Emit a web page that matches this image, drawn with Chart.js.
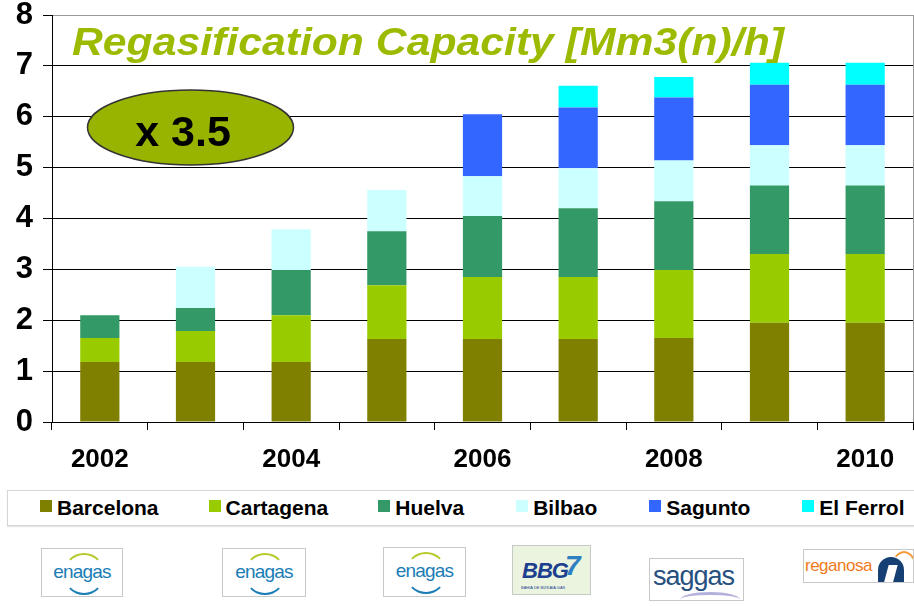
<!DOCTYPE html>
<html>
<head>
<meta charset="utf-8">
<script src="https://cdn.jsdelivr.net/npm/chart.js@4/dist/chart.umd.min.js"></script>
<style>
  body { margin: 0; background: #fff; width: 914px; height: 606px; overflow: hidden; position: relative; font-family: Arial, "Liberation Sans", sans-serif; }
  #chart-canvas { position: absolute; left: 0; top: 0; }
  #legend-div { position: absolute; left: 7px; top: 490px; width: 920px; height: 36px; border: 1px solid #d6d6d6; box-shadow: 0 1px 1px #e6e6e6; display: flex; align-items: center; padding-left: 32px; box-sizing: border-box; white-space: nowrap; }
  .legend-item { display: flex; align-items: center; flex-shrink: 0; font-weight: bold; font-size: 21px; color: #000; }
  .legend-box { width: 12px; height: 12px; margin-right: 5px; margin-top: -4px; }
  .logo { position: absolute; border: 1px solid #c8c8c8; box-sizing: border-box; background: #fff; overflow: hidden; }
  .enagas .ring { position: absolute; left: 21px; top: 4px; width: 38px; height: 38px; border-radius: 50%; border: 2px solid; border-color: #b5c928 transparent #1b7db6 transparent; }
  .enagas span { position: absolute; left: 0; width: 100%; top: 12px; text-align: center; font-size: 19px; color: #1a7db5; letter-spacing: -0.8px; }
</style>
</head>
<body>
<canvas id="chart-canvas" width="914" height="480"></canvas>
<div id="legend-div"></div>

<!-- logos de las plantas -->
<div class="logo enagas" style="left:41px; top:548px; width:82px; height:49px;"><div class="ring"></div><span>enagas</span></div>
<div class="logo enagas" style="left:222px; top:548px; width:84px; height:49px;"><div class="ring"></div><span>enagas</span></div>
<div class="logo enagas" style="left:383px; top:547px; width:83px; height:50px;"><div class="ring"></div><span>enagas</span></div>
<div class="logo" style="left:512px; top:545px; width:79px; height:50px; background:#eaf4df;">
  <span style="position:absolute; left:9px; top:12px; font-size:22px; font-weight:bold; font-style:italic; color:#1d3f8f; letter-spacing:-1px;">BBG</span>
  <span style="position:absolute; left:52px; top:4px; font-size:28px; font-weight:bold; font-style:italic; color:#2f7fc1;">7</span>
  <span style="position:absolute; left:8px; top:39px; font-size:4px; color:#1d3f8f;">BAHIA DE BIZKAIA GAS</span>
</div>
<div class="logo" style="left:649px; top:558px; width:95px; height:43px;">
  <span style="position:absolute; left:3px; top:2px; font-size:27px; color:#27507f; letter-spacing:-1px;">saggas</span>
  <div style="position:absolute; left:30px; top:33px; width:60px; height:12px; border-radius:50%; border-top:3px solid #b4b0dc;"></div>
</div>
<div class="logo" style="left:803px; top:549px; width:111px; height:34px;">
  <span style="position:absolute; left:1px; top:6px; font-size:17px; color:#f07a20; letter-spacing:-0.5px;">reganosa</span>
  <div style="position:absolute; left:74px; top:7px; width:26px; height:26px; border-radius:50% 50% 0 0; background:#163f73;"></div>
  <div style="position:absolute; left:82px; top:15px; width:9px; height:20px; background:#fff; transform:skewX(-15deg);"></div>
  <div style="position:absolute; left:86px; top:1px; width:24px; height:40px; border-radius:50%; border:2px solid #f39a3a; border-color:#f39a3a #f39a3a transparent transparent;"></div>
</div>

<script>
// datos (Mm3(n)/h)
var years = ['2002', '2003', '2004', '2005', '2006', '2007', '2008', '2009', '2010'];
var shownYears = ['2002', '2004', '2006', '2008', '2010'];
var yTicks = [0, 1, 2, 3, 4, 5, 6, 7, 8];

var barcelona = [1.18, 1.18, 1.18, 1.63, 1.63, 1.63, 1.65, 1.95, 1.95];
var cartagena = [0.47, 0.61, 0.92, 1.06, 1.22, 1.22, 1.34, 1.35, 1.35];
var huelva    = [0.45, 0.45, 0.89, 1.06, 1.20, 1.35, 1.35, 1.35, 1.35];
var bilbao    = [null, 0.81, 0.80, 0.81, 0.78, 0.79, 0.80, 0.79, 0.79];
var sagunto   = [null, null, null, null, 1.22, 1.19, 1.24, 1.19, 1.19];
var elFerrol  = [null, null, null, null, null, 0.43, 0.40, 0.43, 0.43];

var seriesNames = ['Barcelona', 'Cartagena', 'Huelva', 'Bilbao', 'Sagunto', 'El Ferrol'];
var seriesData = [barcelona, cartagena, huelva, bilbao, sagunto, elFerrol];
var seriesColors = ['#808000', '#99cc00', '#339966', '#ccffff', '#3366ff', '#00ffff'];
var legendGaps = [50, 50, 52, 52, 52, 0];

var fontFamily = 'Arial, "Liberation Sans", sans-serif';

// titulo, elipse y marco derecho
var decoPlugin = {
  id: 'deco',
  afterDraw: function(chart) {
    var ctx = chart.ctx;
    var area = chart.chartArea;
    ctx.save();

    // marco gris a la derecha
    ctx.strokeStyle = '#999';
    ctx.lineWidth = 1;
    ctx.beginPath();
    ctx.moveTo(area.right + 0.5, area.top);
    ctx.lineTo(area.right + 0.5, area.bottom);
    ctx.stroke();

    // elipse "x 3.5"
    ctx.beginPath();
    ctx.ellipse(190.5, 127.5, 103, 37.5, 0, 0, Math.PI * 2);
    ctx.fillStyle = '#99b400';
    ctx.fill();
    ctx.strokeStyle = '#333';
    ctx.lineWidth = 1.5;
    ctx.stroke();
    ctx.fillStyle = '#000';
    ctx.font = 'bold 43px ' + fontFamily;
    ctx.textAlign = 'center';
    ctx.textBaseline = 'alphabetic';
    ctx.fillText('x 3.5', 183, 146);

    // titulo
    var txt = 'Regasification Capacity [Mm3(n)/h]';
    ctx.font = 'italic bold 38px ' + fontFamily;
    ctx.textAlign = 'left';
    var w = ctx.measureText(txt).width;
    var sx = 712 / w;
    ctx.translate(72, 55);
    ctx.scale(sx, 1);
    ctx.fillStyle = '#9cbb00';
    ctx.fillText(txt, 0, 0);
    ctx.restore();
  }
};

var datasets = seriesNames.map(function(name, i) {
  return {
    label: name,
    data: seriesData[i],
    backgroundColor: seriesColors[i],
    borderWidth: 0,
    categoryPercentage: 1,
    barPercentage: 0.41
  };
});

new Chart(document.getElementById('chart-canvas'), {
  type: 'bar',
  data: { labels: years, datasets: datasets },
  options: {
    responsive: false,
    animation: false,
    layout: { padding: { top: 15, right: 1, left: 0, bottom: 0 } },
    plugins: { legend: { display: false }, tooltip: { enabled: false } },
    scales: {
      x: {
        stacked: true,
        grid: { offset: true, drawOnChartArea: false, tickLength: 8, color: '#000', tickColor: '#000' },
        border: { color: '#000', width: 1 },
        ticks: {
          autoSkip: false, maxRotation: 0, padding: 14, color: '#000',
          font: { family: fontFamily, weight: 'bold', size: 26 },
          callback: function(v, i) { return shownYears.includes(years[i]) ? years[i] : ''; }
        },
        afterFit: function(s) { s.height = 58; }
      },
      y: {
        stacked: true,
        min: yTicks[0], max: yTicks[yTicks.length - 1],
        afterBuildTicks: function(s) { s.ticks = yTicks.map(function(v) { return { value: v }; }); },
        grid: {
          color: function(c) { return c.tick && c.tick.value === 8 ? '#999' : '#000'; },
          tickColor: '#000', tickLength: 9
        },
        border: { color: '#000', width: 1 },
        ticks: { padding: 10, color: '#000', font: { family: fontFamily, weight: 'bold', size: 31, lineHeight: 0.3 } },
        afterFit: function(s) { s.width = 52; }
      }
    }
  },
  plugins: [decoPlugin]
});

// leyenda
var legendDiv = document.getElementById('legend-div');
seriesNames.forEach(function(name, i) {
  var item = document.createElement('div');
  item.className = 'legend-item';
  item.style.marginRight = legendGaps[i] + 'px';
  item.innerHTML = '<div class="legend-box" style="background:' + seriesColors[i] + '"></div>' + name;
  legendDiv.appendChild(item);
});
</script>
</body>
</html>
